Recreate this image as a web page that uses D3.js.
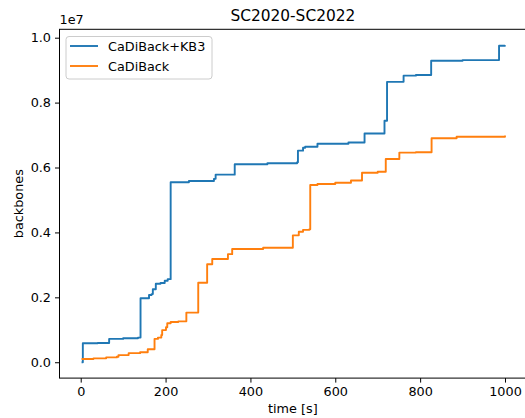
<!DOCTYPE html>
<html>
<head>
<meta charset="utf-8">
<script src="https://cdn.jsdelivr.net/npm/d3@7"></script>
<style>
  body { margin: 0; background: #fff; }
  svg { display: block; font-family: "DejaVu Sans", sans-serif; }
</style>
</head>
<body>
<svg id="svg"></svg>
<script>
// CaDiBack+KB3 (blue), step points: time [s], backbones
const kb3Time = [2, 5, 40, 67, 100, 135, 141, 161, 167, 170, 177, 188, 198, 205, 212, 255, 314, 318, 363, 440, 510, 512, 524, 529, 558, 631, 669, 716, 722, 761, 790, 826, 900, 986, 1000];
const kb3Vals = [0, 585000, 595000, 720000, 740000, 760000, 1970000, 2070000, 2100000, 2250000, 2420000, 2440000, 2510000, 2560000, 5545000, 5585000, 5650000, 5780000, 6100000, 6130000, 6160000, 6520000, 6610000, 6640000, 6730000, 6770000, 7050000, 7440000, 8640000, 8830000, 8850000, 9290000, 9310000, 9750000, 9770000];

// CaDiBack (orange)
const cdbTime = [2, 30, 60, 85, 89, 113, 140, 158, 174, 182, 190, 192, 201, 204, 212, 230, 249, 277, 298, 310, 347, 357, 430, 500, 514, 524, 539, 541, 558, 600, 637, 663, 700, 719, 751, 790, 827, 886, 1000];
const cdbVals = [100000, 120000, 150000, 170000, 220000, 280000, 310000, 400000, 720000, 760000, 840000, 990000, 1080000, 1200000, 1240000, 1260000, 1530000, 2450000, 3020000, 3180000, 3330000, 3490000, 3530000, 3910000, 4020000, 4080000, 4100000, 5460000, 5490000, 5530000, 5600000, 5840000, 5870000, 6260000, 6460000, 6470000, 6900000, 6950000, 6990000];

const seriesNames = ["CaDiBack+KB3", "CaDiBack"];
const xTicks = [0, 200, 400, 600, 800, 1000];
const yTicks = [0, 2000000, 4000000, 6000000, 8000000, 10000000];

const W = 525, H = 418;
const FS = 12.8;
const C_BLUE = "#1f77b4", C_ORANGE = "#ff7f0e";

const svg = d3.select("#svg").attr("width", W).attr("height", H);

const x = d3.scaleLinear().domain([-50, 1050]).range([59.5, 526.2]);
const y = d3.scaleLinear().domain([-488500, 10258500]).range([378.1, 29.3]);

//坐标框
const plot = svg.append("g");

const series = [
    { name: seriesNames[0], color: C_BLUE, pts: kb3Time.map((t, i) => [t, kb3Vals[i]]) },
    { name: seriesNames[1], color: C_ORANGE, pts: cdbTime.map((t, i) => [t, cdbVals[i]]) }
];

const line = d3.line()
    .x(d => x(d[0]))
    .y(d => y(d[1]))
    .curve(d3.curveStepAfter);

series.forEach(s => {
    plot.append("path")
        .attr("d", line(s.pts))
        .attr("fill", "none")
        .attr("stroke", s.color)
        .attr("stroke-width", 1.9)
        .attr("stroke-linejoin", "round");
});

// axes
const xAxis = svg.append("g")
    .attr("transform", `translate(0,${y.range()[0]})`)
    .call(d3.axisBottom(x).tickValues(xTicks).tickSize(4.5).tickPadding(4).tickFormat(d3.format("d")));
const yAxis = svg.append("g")
    .attr("transform", `translate(${x.range()[0]},0)`)
    .call(d3.axisLeft(y).tickValues(yTicks).tickSize(4.5).tickPadding(4).tickFormat(d => (d / 1e7).toFixed(1)));

[xAxis, yAxis].forEach(a => {
    a.select(".domain").remove();
    a.selectAll("line").attr("stroke", "#000").attr("stroke-width", 1);
    a.selectAll("text")
        .attr("fill", "#000")
        .style("font-size", `${FS}px`)
        .style("font-family", "DejaVu Sans");
});

// spines
svg.append("rect")
    .attr("x", x.range()[0])
    .attr("y", y.range()[1])
    .attr("width", x.range()[1] - x.range()[0])
    .attr("height", y.range()[0] - y.range()[1])
    .attr("fill", "none")
    .attr("stroke", "#000")
    .attr("stroke-width", 1);

// texts
svg.append("text")
    .attr("x", (x.range()[0] + x.range()[1]) / 2)
    .attr("y", 21)
    .attr("text-anchor", "middle")
    .style("font-size", "15.4px")
    .text("SC2020-SC2022");

svg.append("text")
    .attr("x", 59.5)
    .attr("y", 24)
    .style("font-size", `${FS}px`)
    .text("1e7");

svg.append("text")
    .attr("x", (x.range()[0] + x.range()[1]) / 2)
    .attr("y", 413)
    .attr("text-anchor", "middle")
    .style("font-size", `${FS}px`)
    .text("time [s]");

svg.append("text")
    .attr("transform", `translate(23,${(y.range()[0] + y.range()[1]) / 2}) rotate(-90)`)
    .attr("text-anchor", "middle")
    .style("font-size", `${FS}px`)
    .text("backbones");

// legend
const legend = svg.append("g");
legend.append("rect")
    .attr("x", 66)
    .attr("y", 36.5)
    .attr("width", 146)
    .attr("height", 42.5)
    .attr("rx", 3)
    .attr("fill", "#fff")
    .attr("fill-opacity", 0.8)
    .attr("stroke", "#cccccc")
    .attr("stroke-width", 1);

series.forEach((s, i) => {
    const ly = 46 + i * 20;
    legend.append("line")
        .attr("x1", 70).attr("x2", 98)
        .attr("y1", ly).attr("y2", ly)
        .attr("stroke", s.color)
        .attr("stroke-width", 1.9);
    legend.append("text")
        .attr("x", 108)
        .attr("y", ly + 4.5)
        .style("font-size", `${FS}px`)
        .text(s.name);
});
</script>
</body>
</html>
